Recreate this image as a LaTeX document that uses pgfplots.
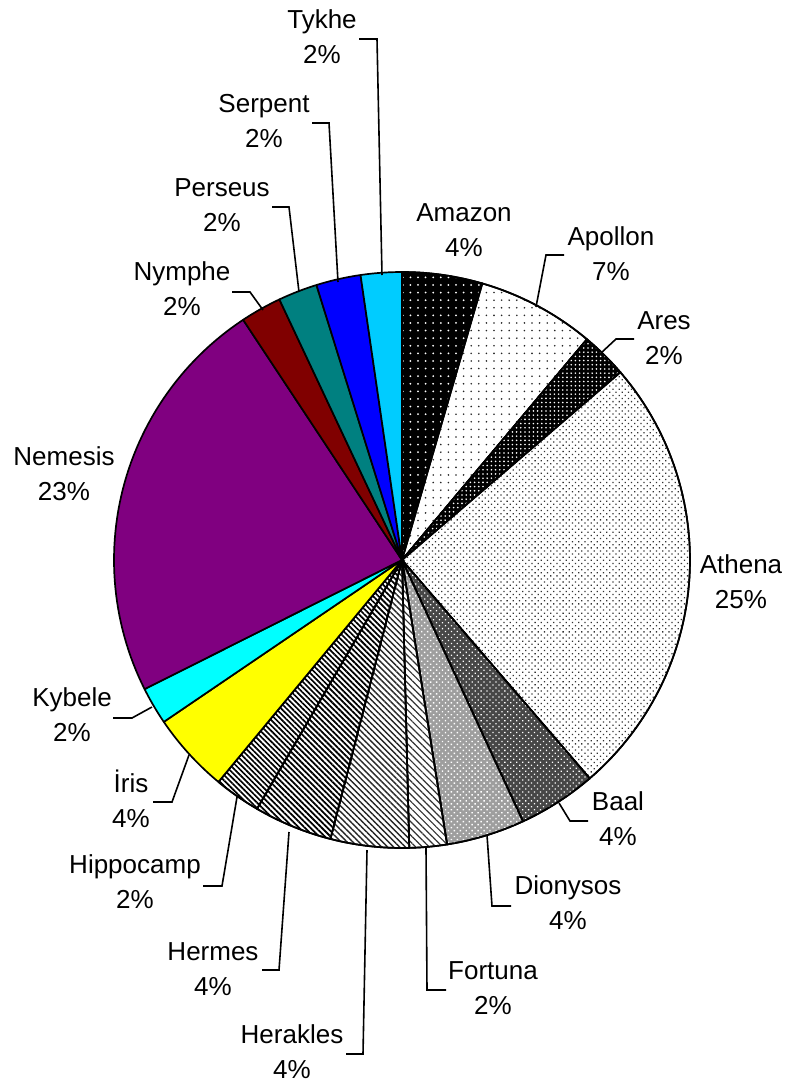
\documentclass[border=0pt]{standalone}
\usepackage{pgfplots}
\pgfplotsset{compat=1.18}
\usetikzlibrary{patterns.meta}
\usepackage{fontspec}
\setmainfont{Liberation Sans}

\definecolor{cIris}{HTML}{FFFF00}
\definecolor{cKybele}{HTML}{00FFFF}
\definecolor{cNemesis}{HTML}{800080}
\definecolor{cNymphe}{HTML}{800000}
\definecolor{cPerseus}{HTML}{008080}
\definecolor{cSerpent}{HTML}{0000FF}
\definecolor{cTykhe}{HTML}{00CCFF}

\tikzset{
  wedge/.style={draw=black, line width=0.85pt, line join=round},
  sAmazon/.style={wedge, fill=black, postaction={pattern={Dots[distance=3.8pt, radius=0.5pt]}, pattern color=white}},
  sApollon/.style={wedge, fill=white, postaction={pattern={Dots[distance=3.8pt, radius=0.45pt]}, pattern color=black!85}},
  sAres/.style={wedge, fill=black, postaction={pattern={Dots[distance=2.1pt, radius=0.45pt]}, pattern color=white}},
  sAthena/.style={wedge, fill=white, postaction={pattern={Dots[distance=2.2pt, angle=45, radius=0.45pt]}, pattern color=black!80}},
  sBaal/.style={wedge, fill=black!72, postaction={pattern={Dots[distance=2.1pt, angle=45, radius=0.45pt]}, pattern color=white}},
  sDionysos/.style={wedge, fill=black!38, postaction={pattern={Dots[distance=2.1pt, angle=45, radius=0.5pt]}, pattern color=white}},
  sFortuna/.style={wedge, fill=white, postaction={pattern={Lines[angle=-45, distance=2.4pt, line width=0.6pt]}, pattern color=black!80}},
  sHerakles/.style={wedge, fill=white, postaction={pattern={Lines[angle=-45, distance=2.1pt, line width=0.7pt]}, pattern color=black!85}},
  sHermes/.style={wedge, fill=white, postaction={pattern={Lines[angle=-45, distance=2pt, line width=0.9pt]}, pattern color=black}},
  sHippocamp/.style={wedge, fill=white, postaction={pattern={Lines[angle=-45, distance=1.9pt, line width=0.85pt]}, pattern color=black}},
  sIris/.style={wedge, fill=cIris},
  sKybele/.style={wedge, fill=cKybele},
  sNemesis/.style={wedge, fill=cNemesis},
  sNymphe/.style={wedge, fill=cNymphe},
  sPerseus/.style={wedge, fill=cPerseus},
  sSerpent/.style={wedge, fill=cSerpent},
  sTykhe/.style={wedge, fill=cTykhe},
  lab/.style={font=\fontsize{13}{17.5}\selectfont, align=center, inner sep=0pt},
  lead/.style={draw=black, line width=0.8pt},
}

% cumulative angle (degrees, clockwise from 12 o'clock)
\gdef\cum{0}
\newcommand{\slice}[2]{%
  \pgfmathsetmacro\sa{\cum}%
  \pgfmathsetmacro\sb{\cum+3.6*#1}%
  \xdef\cum{\sb}%
  \edef\temp{\noexpand\addplot[#2, domain=\sa:\sb, samples=60]
    ({402+288*sin(x)},{560-288*cos(x)}) -- (axis cs:402,560) -- cycle;}%
  \temp}

\begin{document}
\begin{tikzpicture}
\begin{axis}[
  scale only axis, width=393.5pt, height=541.5pt,
  xmin=0, xmax=787, ymin=0, ymax=1083, y dir=reverse,
  hide axis, clip=false]
\path (axis cs:0,0) rectangle (axis cs:787,1083);

% shares in percent, clockwise from the top
\slice{4.5}{sAmazon}
\slice{6.6}{sApollon}
\slice{2.6}{sAres}
\slice{25.0}{sAthena}
\slice{4.4}{sBaal}
\slice{4.4}{sDionysos}
\slice{2.1}{sFortuna}
\slice{4.4}{sHerakles}
\slice{4.4}{sHermes}
\slice{2.6}{sHippocamp}
\slice{4.5}{sIris}
\slice{2.1}{sKybele}
\slice{23.1}{sNemesis}
\slice{2.3}{sNymphe}
\slice{2.2}{sPerseus}
\slice{2.5}{sSerpent}
\slice{2.3}{sTykhe}

% labels
\node[lab] at (axis cs:464,230) {Amazon\\4\%};
\node[lab] at (axis cs:611,254) {Apollon\\7\%};
\node[lab] at (axis cs:664,338) {Ares\\2\%};
\node[lab] at (axis cs:741,582) {Athena\\25\%};
\node[lab] at (axis cs:618,819) {Baal\\4\%};
\node[lab] at (axis cs:568,903) {Dionysos\\4\%};
\node[lab] at (axis cs:493,988) {Fortuna\\2\%};
\node[lab] at (axis cs:292,1052) {Herakles\\4\%};
\node[lab] at (axis cs:213,969) {Hermes\\4\%};
\node[lab] at (axis cs:135,882) {Hippocamp\\2\%};
\node[lab] at (axis cs:131,799) {İris\\4\%};
\node[lab] at (axis cs:72,715) {Kybele\\2\%};
\node[lab] at (axis cs:64,474) {Nemesis\\23\%};
\node[lab] at (axis cs:182,289) {Nymphe\\2\%};
\node[lab] at (axis cs:222,205) {Perseus\\2\%};
\node[lab] at (axis cs:264,121) {Serpent\\2\%};
\node[lab] at (axis cs:322,37) {Tykhe\\2\%};

% leader lines
\draw[lead] (axis cs:564,255) -- (axis cs:546,255) -- (axis cs:536,307);
\draw[lead] (axis cs:634,339) -- (axis cs:616,339) -- (axis cs:601,353);
\draw[lead] (axis cs:588,821) -- (axis cs:570,821) -- (axis cs:559,803);
\draw[lead] (axis cs:511,906) -- (axis cs:492,906) -- (axis cs:487,835);
\draw[lead] (axis cs:446,990) -- (axis cs:427,990) -- (axis cs:426,848);
\draw[lead] (axis cs:346,1054) -- (axis cs:363,1054) -- (axis cs:367,850);
\draw[lead] (axis cs:262,970) -- (axis cs:279,970) -- (axis cs:289,832);
\draw[lead] (axis cs:203,886) -- (axis cs:222,886) -- (axis cs:237,797);
\draw[lead] (axis cs:153,802) -- (axis cs:172,802) -- (axis cs:189,755);
\draw[lead] (axis cs:113,718) -- (axis cs:132,718) -- (axis cs:152,707);
\draw[lead] (axis cs:232,292) -- (axis cs:250,292) -- (axis cs:263,310);
\draw[lead] (axis cs:272,207) -- (axis cs:289,207) -- (axis cs:299,292);
\draw[lead] (axis cs:312,123) -- (axis cs:329,123) -- (axis cs:338,282);
\draw[lead] (axis cs:359,39) -- (axis cs:377,39) -- (axis cs:382,275);
\end{axis}
\end{tikzpicture}
\end{document}
